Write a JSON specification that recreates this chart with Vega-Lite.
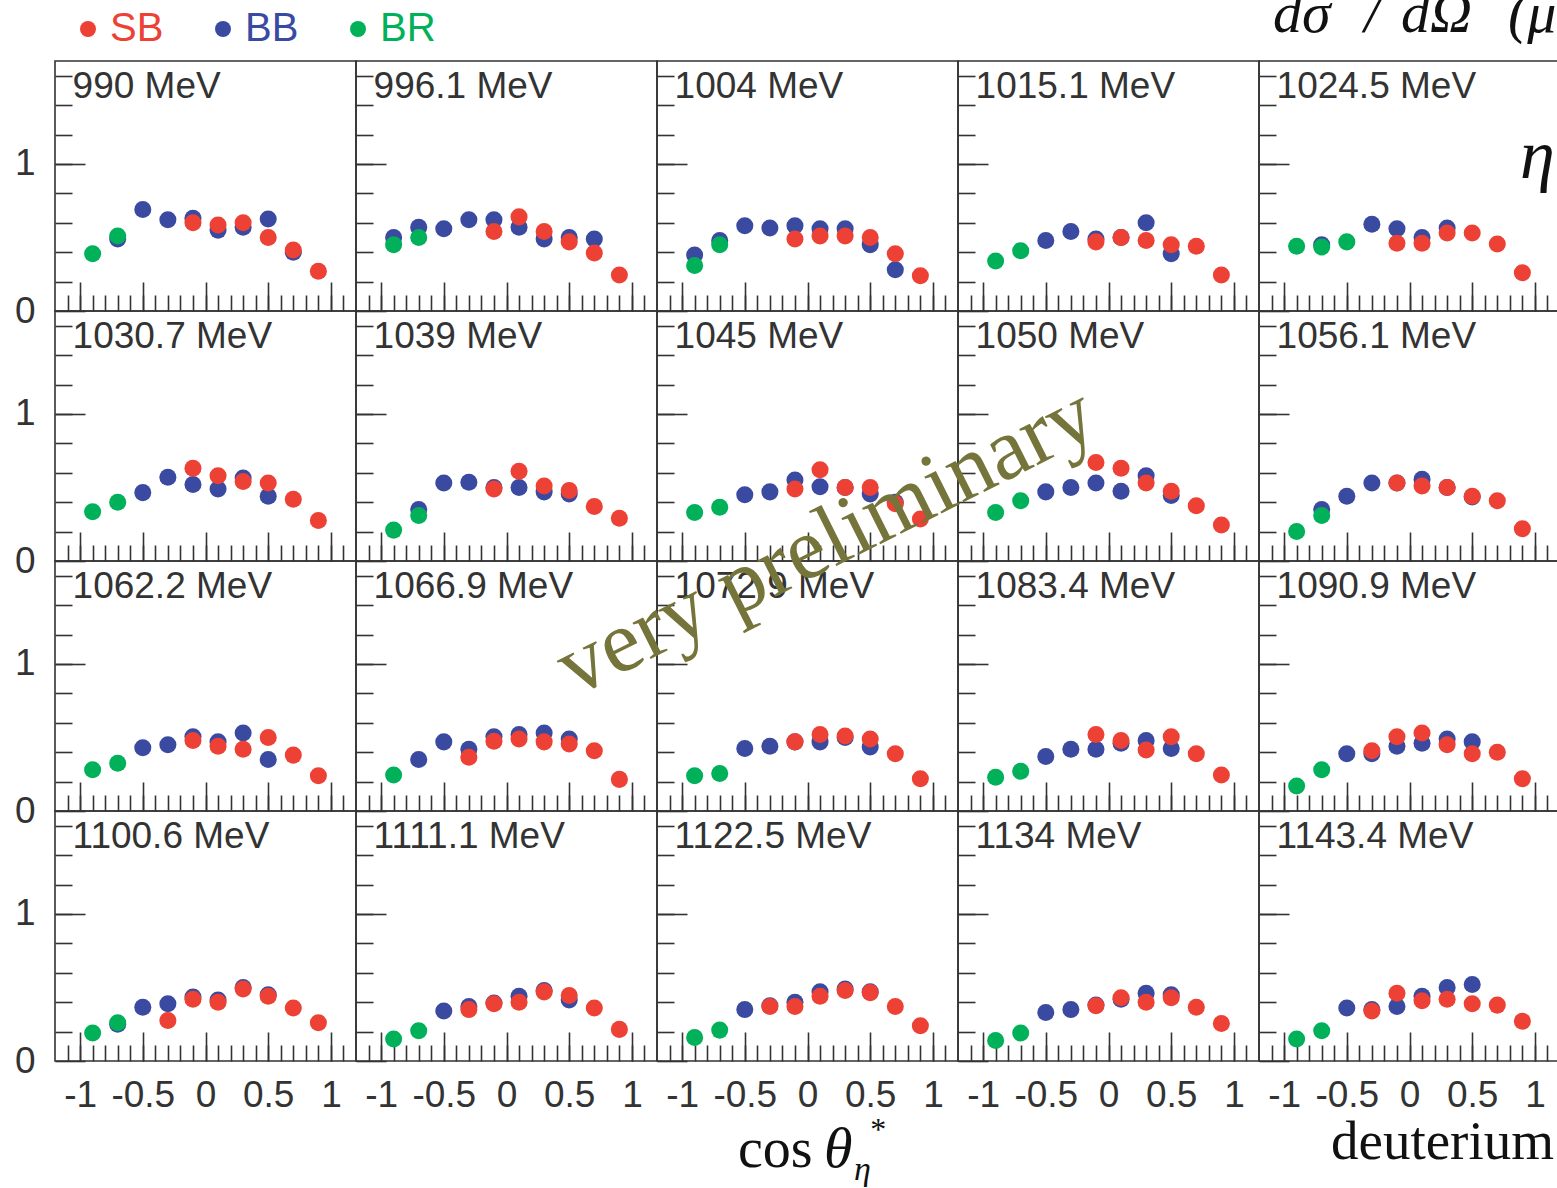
{
  "$schema": "https://vega.github.io/schema/vega-lite/v6.json",
  "autosize": {"type": "none"},
  "padding": {"left": 55, "top": 61, "right": 1502, "bottom": 1127},
  "background": "white",
  "datasets": {
    "pts": [
      {"E":"990 MeV","s":"BB","cos":-0.7,"xs":0.49},{"E":"990 MeV","s":"BB","cos":-0.5,"xs":0.69},{"E":"990 MeV","s":"BB","cos":-0.3,"xs":0.62},{"E":"990 MeV","s":"BB","cos":-0.1,"xs":0.63},{"E":"990 MeV","s":"BB","cos":0.1,"xs":0.55},{"E":"990 MeV","s":"BB","cos":0.3,"xs":0.57},{"E":"990 MeV","s":"BB","cos":0.5,"xs":0.625},{"E":"990 MeV","s":"BB","cos":0.7,"xs":0.40},
      {"E":"990 MeV","s":"SB","cos":-0.1,"xs":0.60},{"E":"990 MeV","s":"SB","cos":0.1,"xs":0.585},{"E":"990 MeV","s":"SB","cos":0.3,"xs":0.60},{"E":"990 MeV","s":"SB","cos":0.5,"xs":0.50},{"E":"990 MeV","s":"SB","cos":0.7,"xs":0.415},{"E":"990 MeV","s":"SB","cos":0.9,"xs":0.27},
      {"E":"990 MeV","s":"BR","cos":-0.9,"xs":0.39},{"E":"990 MeV","s":"BR","cos":-0.7,"xs":0.51},

      {"E":"996.1 MeV","s":"BB","cos":-0.9,"xs":0.50},{"E":"996.1 MeV","s":"BB","cos":-0.7,"xs":0.57},{"E":"996.1 MeV","s":"BB","cos":-0.5,"xs":0.56},{"E":"996.1 MeV","s":"BB","cos":-0.3,"xs":0.62},{"E":"996.1 MeV","s":"BB","cos":-0.1,"xs":0.62},{"E":"996.1 MeV","s":"BB","cos":0.1,"xs":0.57},{"E":"996.1 MeV","s":"BB","cos":0.3,"xs":0.49},{"E":"996.1 MeV","s":"BB","cos":0.5,"xs":0.50},{"E":"996.1 MeV","s":"BB","cos":0.7,"xs":0.49},
      {"E":"996.1 MeV","s":"SB","cos":-0.1,"xs":0.54},{"E":"996.1 MeV","s":"SB","cos":0.1,"xs":0.64},{"E":"996.1 MeV","s":"SB","cos":0.3,"xs":0.54},{"E":"996.1 MeV","s":"SB","cos":0.5,"xs":0.47},{"E":"996.1 MeV","s":"SB","cos":0.7,"xs":0.395},{"E":"996.1 MeV","s":"SB","cos":0.9,"xs":0.245},
      {"E":"996.1 MeV","s":"BR","cos":-0.9,"xs":0.45},{"E":"996.1 MeV","s":"BR","cos":-0.7,"xs":0.50},

      {"E":"1004 MeV","s":"BB","cos":-0.9,"xs":0.38},{"E":"1004 MeV","s":"BB","cos":-0.7,"xs":0.48},{"E":"1004 MeV","s":"BB","cos":-0.5,"xs":0.58},{"E":"1004 MeV","s":"BB","cos":-0.3,"xs":0.565},{"E":"1004 MeV","s":"BB","cos":-0.1,"xs":0.58},{"E":"1004 MeV","s":"BB","cos":0.1,"xs":0.56},{"E":"1004 MeV","s":"BB","cos":0.3,"xs":0.56},{"E":"1004 MeV","s":"BB","cos":0.5,"xs":0.45},{"E":"1004 MeV","s":"BB","cos":0.7,"xs":0.28},
      {"E":"1004 MeV","s":"SB","cos":-0.1,"xs":0.49},{"E":"1004 MeV","s":"SB","cos":0.1,"xs":0.51},{"E":"1004 MeV","s":"SB","cos":0.3,"xs":0.51},{"E":"1004 MeV","s":"SB","cos":0.5,"xs":0.50},{"E":"1004 MeV","s":"SB","cos":0.7,"xs":0.39},{"E":"1004 MeV","s":"SB","cos":0.9,"xs":0.24},
      {"E":"1004 MeV","s":"BR","cos":-0.9,"xs":0.31},{"E":"1004 MeV","s":"BR","cos":-0.7,"xs":0.45},

      {"E":"1015.1 MeV","s":"BB","cos":-0.5,"xs":0.48},{"E":"1015.1 MeV","s":"BB","cos":-0.3,"xs":0.54},{"E":"1015.1 MeV","s":"BB","cos":-0.1,"xs":0.49},{"E":"1015.1 MeV","s":"BB","cos":0.1,"xs":0.50},{"E":"1015.1 MeV","s":"BB","cos":0.3,"xs":0.60},{"E":"1015.1 MeV","s":"BB","cos":0.5,"xs":0.39},
      {"E":"1015.1 MeV","s":"SB","cos":-0.1,"xs":0.47},{"E":"1015.1 MeV","s":"SB","cos":0.1,"xs":0.50},{"E":"1015.1 MeV","s":"SB","cos":0.3,"xs":0.48},{"E":"1015.1 MeV","s":"SB","cos":0.5,"xs":0.45},{"E":"1015.1 MeV","s":"SB","cos":0.7,"xs":0.44},{"E":"1015.1 MeV","s":"SB","cos":0.9,"xs":0.245},
      {"E":"1015.1 MeV","s":"BR","cos":-0.9,"xs":0.34},{"E":"1015.1 MeV","s":"BR","cos":-0.7,"xs":0.41},

      {"E":"1024.5 MeV","s":"BB","cos":-0.7,"xs":0.45},{"E":"1024.5 MeV","s":"BB","cos":-0.3,"xs":0.59},{"E":"1024.5 MeV","s":"BB","cos":-0.1,"xs":0.56},{"E":"1024.5 MeV","s":"BB","cos":0.1,"xs":0.50},{"E":"1024.5 MeV","s":"BB","cos":0.3,"xs":0.565},
      {"E":"1024.5 MeV","s":"SB","cos":-0.1,"xs":0.46},{"E":"1024.5 MeV","s":"SB","cos":0.1,"xs":0.46},{"E":"1024.5 MeV","s":"SB","cos":0.3,"xs":0.53},{"E":"1024.5 MeV","s":"SB","cos":0.5,"xs":0.53},{"E":"1024.5 MeV","s":"SB","cos":0.7,"xs":0.455},{"E":"1024.5 MeV","s":"SB","cos":0.9,"xs":0.26},
      {"E":"1024.5 MeV","s":"BR","cos":-0.9,"xs":0.44},{"E":"1024.5 MeV","s":"BR","cos":-0.7,"xs":0.435},{"E":"1024.5 MeV","s":"BR","cos":-0.5,"xs":0.47},

      {"E":"1030.7 MeV","s":"BB","cos":-0.5,"xs":0.465},{"E":"1030.7 MeV","s":"BB","cos":-0.3,"xs":0.57},{"E":"1030.7 MeV","s":"BB","cos":-0.1,"xs":0.52},{"E":"1030.7 MeV","s":"BB","cos":0.1,"xs":0.49},{"E":"1030.7 MeV","s":"BB","cos":0.3,"xs":0.565},{"E":"1030.7 MeV","s":"BB","cos":0.5,"xs":0.44},
      {"E":"1030.7 MeV","s":"SB","cos":-0.1,"xs":0.63},{"E":"1030.7 MeV","s":"SB","cos":0.1,"xs":0.58},{"E":"1030.7 MeV","s":"SB","cos":0.3,"xs":0.54},{"E":"1030.7 MeV","s":"SB","cos":0.5,"xs":0.53},{"E":"1030.7 MeV","s":"SB","cos":0.7,"xs":0.42},{"E":"1030.7 MeV","s":"SB","cos":0.9,"xs":0.275},
      {"E":"1030.7 MeV","s":"BR","cos":-0.9,"xs":0.335},{"E":"1030.7 MeV","s":"BR","cos":-0.7,"xs":0.40},

      {"E":"1039 MeV","s":"BB","cos":-0.7,"xs":0.35},{"E":"1039 MeV","s":"BB","cos":-0.5,"xs":0.53},{"E":"1039 MeV","s":"BB","cos":-0.3,"xs":0.535},{"E":"1039 MeV","s":"BB","cos":-0.1,"xs":0.50},{"E":"1039 MeV","s":"BB","cos":0.1,"xs":0.50},{"E":"1039 MeV","s":"BB","cos":0.3,"xs":0.47},{"E":"1039 MeV","s":"BB","cos":0.5,"xs":0.455},
      {"E":"1039 MeV","s":"SB","cos":-0.1,"xs":0.49},{"E":"1039 MeV","s":"SB","cos":0.1,"xs":0.61},{"E":"1039 MeV","s":"SB","cos":0.3,"xs":0.51},{"E":"1039 MeV","s":"SB","cos":0.5,"xs":0.48},{"E":"1039 MeV","s":"SB","cos":0.7,"xs":0.37},{"E":"1039 MeV","s":"SB","cos":0.9,"xs":0.29},
      {"E":"1039 MeV","s":"BR","cos":-0.9,"xs":0.21},{"E":"1039 MeV","s":"BR","cos":-0.7,"xs":0.31},

      {"E":"1045 MeV","s":"BB","cos":-0.5,"xs":0.45},{"E":"1045 MeV","s":"BB","cos":-0.3,"xs":0.47},{"E":"1045 MeV","s":"BB","cos":-0.1,"xs":0.55},{"E":"1045 MeV","s":"BB","cos":0.1,"xs":0.505},{"E":"1045 MeV","s":"BB","cos":0.3,"xs":0.50},{"E":"1045 MeV","s":"BB","cos":0.5,"xs":0.455},{"E":"1045 MeV","s":"BB","cos":0.7,"xs":0.40},
      {"E":"1045 MeV","s":"SB","cos":-0.1,"xs":0.49},{"E":"1045 MeV","s":"SB","cos":0.1,"xs":0.62},{"E":"1045 MeV","s":"SB","cos":0.3,"xs":0.50},{"E":"1045 MeV","s":"SB","cos":0.5,"xs":0.50},{"E":"1045 MeV","s":"SB","cos":0.7,"xs":0.39},{"E":"1045 MeV","s":"SB","cos":0.9,"xs":0.285},
      {"E":"1045 MeV","s":"BR","cos":-0.9,"xs":0.33},{"E":"1045 MeV","s":"BR","cos":-0.7,"xs":0.365},

      {"E":"1050 MeV","s":"BB","cos":-0.5,"xs":0.47},{"E":"1050 MeV","s":"BB","cos":-0.3,"xs":0.50},{"E":"1050 MeV","s":"BB","cos":-0.1,"xs":0.53},{"E":"1050 MeV","s":"BB","cos":0.1,"xs":0.475},{"E":"1050 MeV","s":"BB","cos":0.3,"xs":0.58},{"E":"1050 MeV","s":"BB","cos":0.5,"xs":0.445},
      {"E":"1050 MeV","s":"SB","cos":-0.1,"xs":0.67},{"E":"1050 MeV","s":"SB","cos":0.1,"xs":0.63},{"E":"1050 MeV","s":"SB","cos":0.3,"xs":0.53},{"E":"1050 MeV","s":"SB","cos":0.5,"xs":0.475},{"E":"1050 MeV","s":"SB","cos":0.7,"xs":0.375},{"E":"1050 MeV","s":"SB","cos":0.9,"xs":0.245},
      {"E":"1050 MeV","s":"BR","cos":-0.9,"xs":0.33},{"E":"1050 MeV","s":"BR","cos":-0.7,"xs":0.41},

      {"E":"1056.1 MeV","s":"BB","cos":-0.7,"xs":0.35},{"E":"1056.1 MeV","s":"BB","cos":-0.5,"xs":0.44},{"E":"1056.1 MeV","s":"BB","cos":-0.3,"xs":0.53},{"E":"1056.1 MeV","s":"BB","cos":-0.1,"xs":0.53},{"E":"1056.1 MeV","s":"BB","cos":0.1,"xs":0.555},{"E":"1056.1 MeV","s":"BB","cos":0.3,"xs":0.50},{"E":"1056.1 MeV","s":"BB","cos":0.5,"xs":0.435},
      {"E":"1056.1 MeV","s":"SB","cos":-0.1,"xs":0.53},{"E":"1056.1 MeV","s":"SB","cos":0.1,"xs":0.51},{"E":"1056.1 MeV","s":"SB","cos":0.3,"xs":0.50},{"E":"1056.1 MeV","s":"SB","cos":0.5,"xs":0.44},{"E":"1056.1 MeV","s":"SB","cos":0.7,"xs":0.41},{"E":"1056.1 MeV","s":"SB","cos":0.9,"xs":0.22},
      {"E":"1056.1 MeV","s":"BR","cos":-0.9,"xs":0.20},{"E":"1056.1 MeV","s":"BR","cos":-0.7,"xs":0.31},

      {"E":"1062.2 MeV","s":"BB","cos":-0.5,"xs":0.43},{"E":"1062.2 MeV","s":"BB","cos":-0.3,"xs":0.45},{"E":"1062.2 MeV","s":"BB","cos":-0.1,"xs":0.505},{"E":"1062.2 MeV","s":"BB","cos":0.1,"xs":0.47},{"E":"1062.2 MeV","s":"BB","cos":0.3,"xs":0.53},{"E":"1062.2 MeV","s":"BB","cos":0.5,"xs":0.35},
      {"E":"1062.2 MeV","s":"SB","cos":-0.1,"xs":0.48},{"E":"1062.2 MeV","s":"SB","cos":0.1,"xs":0.44},{"E":"1062.2 MeV","s":"SB","cos":0.3,"xs":0.42},{"E":"1062.2 MeV","s":"SB","cos":0.5,"xs":0.50},{"E":"1062.2 MeV","s":"SB","cos":0.7,"xs":0.38},{"E":"1062.2 MeV","s":"SB","cos":0.9,"xs":0.24},
      {"E":"1062.2 MeV","s":"BR","cos":-0.9,"xs":0.28},{"E":"1062.2 MeV","s":"BR","cos":-0.7,"xs":0.325},

      {"E":"1066.9 MeV","s":"BB","cos":-0.7,"xs":0.35},{"E":"1066.9 MeV","s":"BB","cos":-0.5,"xs":0.47},{"E":"1066.9 MeV","s":"BB","cos":-0.3,"xs":0.42},{"E":"1066.9 MeV","s":"BB","cos":-0.1,"xs":0.505},{"E":"1066.9 MeV","s":"BB","cos":0.1,"xs":0.52},{"E":"1066.9 MeV","s":"BB","cos":0.3,"xs":0.53},{"E":"1066.9 MeV","s":"BB","cos":0.5,"xs":0.49},
      {"E":"1066.9 MeV","s":"SB","cos":-0.3,"xs":0.365},{"E":"1066.9 MeV","s":"SB","cos":-0.1,"xs":0.475},{"E":"1066.9 MeV","s":"SB","cos":0.1,"xs":0.49},{"E":"1066.9 MeV","s":"SB","cos":0.3,"xs":0.47},{"E":"1066.9 MeV","s":"SB","cos":0.5,"xs":0.455},{"E":"1066.9 MeV","s":"SB","cos":0.7,"xs":0.41},{"E":"1066.9 MeV","s":"SB","cos":0.9,"xs":0.215},
      {"E":"1066.9 MeV","s":"BR","cos":-0.9,"xs":0.245},

      {"E":"1072.9 MeV","s":"BB","cos":-0.5,"xs":0.425},{"E":"1072.9 MeV","s":"BB","cos":-0.3,"xs":0.44},{"E":"1072.9 MeV","s":"BB","cos":-0.1,"xs":0.47},{"E":"1072.9 MeV","s":"BB","cos":0.1,"xs":0.47},{"E":"1072.9 MeV","s":"BB","cos":0.3,"xs":0.50},{"E":"1072.9 MeV","s":"BB","cos":0.5,"xs":0.435},
      {"E":"1072.9 MeV","s":"SB","cos":-0.1,"xs":0.47},{"E":"1072.9 MeV","s":"SB","cos":0.1,"xs":0.52},{"E":"1072.9 MeV","s":"SB","cos":0.3,"xs":0.51},{"E":"1072.9 MeV","s":"SB","cos":0.5,"xs":0.49},{"E":"1072.9 MeV","s":"SB","cos":0.7,"xs":0.39},{"E":"1072.9 MeV","s":"SB","cos":0.9,"xs":0.22},
      {"E":"1072.9 MeV","s":"BR","cos":-0.9,"xs":0.24},{"E":"1072.9 MeV","s":"BR","cos":-0.7,"xs":0.255},

      {"E":"1083.4 MeV","s":"BB","cos":-0.5,"xs":0.37},{"E":"1083.4 MeV","s":"BB","cos":-0.3,"xs":0.42},{"E":"1083.4 MeV","s":"BB","cos":-0.1,"xs":0.42},{"E":"1083.4 MeV","s":"BB","cos":0.1,"xs":0.46},{"E":"1083.4 MeV","s":"BB","cos":0.3,"xs":0.48},{"E":"1083.4 MeV","s":"BB","cos":0.5,"xs":0.425},
      {"E":"1083.4 MeV","s":"SB","cos":-0.1,"xs":0.52},{"E":"1083.4 MeV","s":"SB","cos":0.1,"xs":0.48},{"E":"1083.4 MeV","s":"SB","cos":0.3,"xs":0.415},{"E":"1083.4 MeV","s":"SB","cos":0.5,"xs":0.505},{"E":"1083.4 MeV","s":"SB","cos":0.7,"xs":0.39},{"E":"1083.4 MeV","s":"SB","cos":0.9,"xs":0.245},
      {"E":"1083.4 MeV","s":"BR","cos":-0.9,"xs":0.23},{"E":"1083.4 MeV","s":"BR","cos":-0.7,"xs":0.27},

      {"E":"1090.9 MeV","s":"BB","cos":-0.5,"xs":0.39},{"E":"1090.9 MeV","s":"BB","cos":-0.3,"xs":0.39},{"E":"1090.9 MeV","s":"BB","cos":-0.1,"xs":0.44},{"E":"1090.9 MeV","s":"BB","cos":0.1,"xs":0.46},{"E":"1090.9 MeV","s":"BB","cos":0.3,"xs":0.49},{"E":"1090.9 MeV","s":"BB","cos":0.5,"xs":0.47},
      {"E":"1090.9 MeV","s":"SB","cos":-0.3,"xs":0.41},{"E":"1090.9 MeV","s":"SB","cos":-0.1,"xs":0.505},{"E":"1090.9 MeV","s":"SB","cos":0.1,"xs":0.53},{"E":"1090.9 MeV","s":"SB","cos":0.3,"xs":0.45},{"E":"1090.9 MeV","s":"SB","cos":0.5,"xs":0.39},{"E":"1090.9 MeV","s":"SB","cos":0.7,"xs":0.40},{"E":"1090.9 MeV","s":"SB","cos":0.9,"xs":0.22},
      {"E":"1090.9 MeV","s":"BR","cos":-0.9,"xs":0.17},{"E":"1090.9 MeV","s":"BR","cos":-0.7,"xs":0.28},

      {"E":"1100.6 MeV","s":"BB","cos":-0.7,"xs":0.25},{"E":"1100.6 MeV","s":"BB","cos":-0.5,"xs":0.365},{"E":"1100.6 MeV","s":"BB","cos":-0.3,"xs":0.39},{"E":"1100.6 MeV","s":"BB","cos":-0.1,"xs":0.435},{"E":"1100.6 MeV","s":"BB","cos":0.1,"xs":0.415},{"E":"1100.6 MeV","s":"BB","cos":0.3,"xs":0.50},{"E":"1100.6 MeV","s":"BB","cos":0.5,"xs":0.45},
      {"E":"1100.6 MeV","s":"SB","cos":-0.3,"xs":0.275},{"E":"1100.6 MeV","s":"SB","cos":-0.1,"xs":0.42},{"E":"1100.6 MeV","s":"SB","cos":0.1,"xs":0.40},{"E":"1100.6 MeV","s":"SB","cos":0.3,"xs":0.49},{"E":"1100.6 MeV","s":"SB","cos":0.5,"xs":0.44},{"E":"1100.6 MeV","s":"SB","cos":0.7,"xs":0.36},{"E":"1100.6 MeV","s":"SB","cos":0.9,"xs":0.26},
      {"E":"1100.6 MeV","s":"BR","cos":-0.9,"xs":0.19},{"E":"1100.6 MeV","s":"BR","cos":-0.7,"xs":0.26},

      {"E":"1111.1 MeV","s":"BB","cos":-0.5,"xs":0.34},{"E":"1111.1 MeV","s":"BB","cos":-0.3,"xs":0.37},{"E":"1111.1 MeV","s":"BB","cos":-0.1,"xs":0.395},{"E":"1111.1 MeV","s":"BB","cos":0.1,"xs":0.44},{"E":"1111.1 MeV","s":"BB","cos":0.3,"xs":0.48},{"E":"1111.1 MeV","s":"BB","cos":0.5,"xs":0.415},
      {"E":"1111.1 MeV","s":"SB","cos":-0.3,"xs":0.35},{"E":"1111.1 MeV","s":"SB","cos":-0.1,"xs":0.39},{"E":"1111.1 MeV","s":"SB","cos":0.1,"xs":0.40},{"E":"1111.1 MeV","s":"SB","cos":0.3,"xs":0.47},{"E":"1111.1 MeV","s":"SB","cos":0.5,"xs":0.445},{"E":"1111.1 MeV","s":"SB","cos":0.7,"xs":0.36},{"E":"1111.1 MeV","s":"SB","cos":0.9,"xs":0.215},
      {"E":"1111.1 MeV","s":"BR","cos":-0.9,"xs":0.15},{"E":"1111.1 MeV","s":"BR","cos":-0.7,"xs":0.205},

      {"E":"1122.5 MeV","s":"BB","cos":-0.5,"xs":0.35},{"E":"1122.5 MeV","s":"BB","cos":-0.3,"xs":0.375},{"E":"1122.5 MeV","s":"BB","cos":-0.1,"xs":0.40},{"E":"1122.5 MeV","s":"BB","cos":0.1,"xs":0.47},{"E":"1122.5 MeV","s":"BB","cos":0.3,"xs":0.49},{"E":"1122.5 MeV","s":"BB","cos":0.5,"xs":0.47},
      {"E":"1122.5 MeV","s":"SB","cos":-0.3,"xs":0.37},{"E":"1122.5 MeV","s":"SB","cos":-0.1,"xs":0.37},{"E":"1122.5 MeV","s":"SB","cos":0.1,"xs":0.44},{"E":"1122.5 MeV","s":"SB","cos":0.3,"xs":0.48},{"E":"1122.5 MeV","s":"SB","cos":0.5,"xs":0.465},{"E":"1122.5 MeV","s":"SB","cos":0.7,"xs":0.37},{"E":"1122.5 MeV","s":"SB","cos":0.9,"xs":0.24},
      {"E":"1122.5 MeV","s":"BR","cos":-0.9,"xs":0.16},{"E":"1122.5 MeV","s":"BR","cos":-0.7,"xs":0.21},

      {"E":"1134 MeV","s":"BB","cos":-0.5,"xs":0.33},{"E":"1134 MeV","s":"BB","cos":-0.3,"xs":0.35},{"E":"1134 MeV","s":"BB","cos":-0.1,"xs":0.38},{"E":"1134 MeV","s":"BB","cos":0.1,"xs":0.42},{"E":"1134 MeV","s":"BB","cos":0.3,"xs":0.46},{"E":"1134 MeV","s":"BB","cos":0.5,"xs":0.45},
      {"E":"1134 MeV","s":"SB","cos":-0.1,"xs":0.375},{"E":"1134 MeV","s":"SB","cos":0.1,"xs":0.43},{"E":"1134 MeV","s":"SB","cos":0.3,"xs":0.40},{"E":"1134 MeV","s":"SB","cos":0.5,"xs":0.43},{"E":"1134 MeV","s":"SB","cos":0.7,"xs":0.365},{"E":"1134 MeV","s":"SB","cos":0.9,"xs":0.255},
      {"E":"1134 MeV","s":"BR","cos":-0.9,"xs":0.14},{"E":"1134 MeV","s":"BR","cos":-0.7,"xs":0.19},

      {"E":"1143.4 MeV","s":"BB","cos":-0.5,"xs":0.36},{"E":"1143.4 MeV","s":"BB","cos":-0.3,"xs":0.35},{"E":"1143.4 MeV","s":"BB","cos":-0.1,"xs":0.37},{"E":"1143.4 MeV","s":"BB","cos":0.1,"xs":0.44},{"E":"1143.4 MeV","s":"BB","cos":0.3,"xs":0.50},{"E":"1143.4 MeV","s":"BB","cos":0.5,"xs":0.52},
      {"E":"1143.4 MeV","s":"SB","cos":-0.3,"xs":0.34},{"E":"1143.4 MeV","s":"SB","cos":-0.1,"xs":0.46},{"E":"1143.4 MeV","s":"SB","cos":0.1,"xs":0.41},{"E":"1143.4 MeV","s":"SB","cos":0.3,"xs":0.42},{"E":"1143.4 MeV","s":"SB","cos":0.5,"xs":0.39},{"E":"1143.4 MeV","s":"SB","cos":0.7,"xs":0.38},{"E":"1143.4 MeV","s":"SB","cos":0.9,"xs":0.27},
      {"E":"1143.4 MeV","s":"BR","cos":-0.9,"xs":0.15},{"E":"1143.4 MeV","s":"BR","cos":-0.7,"xs":0.205}
    ]
  },
  "columns": 5,
  "spacing": 0,
  "bounds": "flush",
  "concat": [
    {"width":301,"height":250,"resolve":{"axis":{"x":"independent","y":"independent"}},"layer":[
      {"data":{"name":"pts"},"transform":[{"filter":"datum.E=='990 MeV'"}],"mark":{"type":"circle","size":290,"opacity":1},"encoding":{"x":{"field":"cos","type":"quantitative","scale":{"domain":[-1.2,1.2],"nice":false},"axis":{"orient":"bottom","values":[-1.1,-1,-0.9,-0.8,-0.7,-0.6,-0.5,-0.4,-0.3,-0.2,-0.1,0,0.1,0.2,0.3,0.4,0.5,0.6,0.7,0.8,0.9,1,1.1],"tickSize":16,"offset":-16,"labels":false,"title":null}},"y":{"field":"xs","type":"quantitative","scale":{"domain":[0,1.7],"nice":false},"axis":{"orient":"left","values":[0.2,0.4,0.6,0.8,1,1.2,1.4,1.6],"tickSize":17,"offset":-17,"labels":false,"title":null}},"color":{"field":"s","type":"nominal","scale":{"domain":["SB","BB","BR"],"range":["#ec4134","#3a4aa0","#00b159"]},"legend":{"title":null,"orient":"none","legendX":13,"legendY":-52,"direction":"horizontal","symbolType":"circle","symbolSize":255,"symbolStrokeWidth":0,"symbolOpacity":1,"labelFont":"Liberation Sans","labelFontSize":40,"labelOffset":2,"columnPadding":39,"padding":0,"labelLimit":0,"encode":{"labels":{"update":{"fill":{"scale":"color","field":"value"}}}}}}}},
      {"data":{"name":"pts"},"transform":[{"filter":"datum.E=='990 MeV'"},{"aggregate":[{"op":"count","as":"n"}],"groupby":["E"]}],"mark":{"type":"text","align":"left","baseline":"alphabetic","font":"Liberation Sans","fontSize":37,"fill":"#333"},"encoding":{"x":{"datum":-1.06,"type":"quantitative","axis":{"orient":"bottom","values":[-1,-0.5,0,0.5,1],"tickSize":29,"offset":-29,"labels":false,"title":null}},"y":{"datum":1.45,"type":"quantitative","axis":{"orient":"left","values":[0,1],"tickSize":30,"offset":-30,"labels":true,"labelPadding":20,"labelExpr":"''+datum.value","title":null}},"text":{"field":"E"}}}
    ]},
    {"width":301,"height":250,"resolve":{"axis":{"x":"independent","y":"independent"}},"layer":[
      {"data":{"name":"pts"},"transform":[{"filter":"datum.E=='996.1 MeV'"}],"mark":{"type":"circle","size":290,"opacity":1},"encoding":{"x":{"field":"cos","type":"quantitative","scale":{"domain":[-1.2,1.2],"nice":false},"axis":{"orient":"bottom","values":[-1.1,-1,-0.9,-0.8,-0.7,-0.6,-0.5,-0.4,-0.3,-0.2,-0.1,0,0.1,0.2,0.3,0.4,0.5,0.6,0.7,0.8,0.9,1,1.1],"tickSize":16,"offset":-16,"labels":false,"title":null}},"y":{"field":"xs","type":"quantitative","scale":{"domain":[0,1.7],"nice":false},"axis":{"orient":"left","values":[0.2,0.4,0.6,0.8,1,1.2,1.4,1.6],"tickSize":17,"offset":-17,"labels":false,"title":null}},"color":{"field":"s","type":"nominal","scale":{"domain":["SB","BB","BR"],"range":["#ec4134","#3a4aa0","#00b159"]}}}},
      {"data":{"name":"pts"},"transform":[{"filter":"datum.E=='996.1 MeV'"},{"aggregate":[{"op":"count","as":"n"}],"groupby":["E"]}],"mark":{"type":"text","align":"left","baseline":"alphabetic","font":"Liberation Sans","fontSize":37,"fill":"#333"},"encoding":{"x":{"datum":-1.06,"type":"quantitative","axis":{"orient":"bottom","values":[-1,-0.5,0,0.5,1],"tickSize":29,"offset":-29,"labels":false,"title":null}},"y":{"datum":1.45,"type":"quantitative","axis":{"orient":"left","values":[0,1],"tickSize":30,"offset":-30,"labels":false,"title":null}},"text":{"field":"E"}}}
    ]},
    {"width":301,"height":250,"resolve":{"axis":{"x":"independent","y":"independent"}},"layer":[
      {"data":{"name":"pts"},"transform":[{"filter":"datum.E=='1004 MeV'"}],"mark":{"type":"circle","size":290,"opacity":1},"encoding":{"x":{"field":"cos","type":"quantitative","scale":{"domain":[-1.2,1.2],"nice":false},"axis":{"orient":"bottom","values":[-1.1,-1,-0.9,-0.8,-0.7,-0.6,-0.5,-0.4,-0.3,-0.2,-0.1,0,0.1,0.2,0.3,0.4,0.5,0.6,0.7,0.8,0.9,1,1.1],"tickSize":16,"offset":-16,"labels":false,"title":null}},"y":{"field":"xs","type":"quantitative","scale":{"domain":[0,1.7],"nice":false},"axis":{"orient":"left","values":[0.2,0.4,0.6,0.8,1,1.2,1.4,1.6],"tickSize":17,"offset":-17,"labels":false,"title":null}},"color":{"field":"s","type":"nominal","scale":{"domain":["SB","BB","BR"],"range":["#ec4134","#3a4aa0","#00b159"]}}}},
      {"data":{"name":"pts"},"transform":[{"filter":"datum.E=='1004 MeV'"},{"aggregate":[{"op":"count","as":"n"}],"groupby":["E"]}],"mark":{"type":"text","align":"left","baseline":"alphabetic","font":"Liberation Sans","fontSize":37,"fill":"#333"},"encoding":{"x":{"datum":-1.06,"type":"quantitative","axis":{"orient":"bottom","values":[-1,-0.5,0,0.5,1],"tickSize":29,"offset":-29,"labels":false,"title":null}},"y":{"datum":1.45,"type":"quantitative","axis":{"orient":"left","values":[0,1],"tickSize":30,"offset":-30,"labels":false,"title":null}},"text":{"field":"E"}}}
    ]},
    {"width":301,"height":250,"resolve":{"axis":{"x":"independent","y":"independent"}},"layer":[
      {"data":{"name":"pts"},"transform":[{"filter":"datum.E=='1015.1 MeV'"}],"mark":{"type":"circle","size":290,"opacity":1},"encoding":{"x":{"field":"cos","type":"quantitative","scale":{"domain":[-1.2,1.2],"nice":false},"axis":{"orient":"bottom","values":[-1.1,-1,-0.9,-0.8,-0.7,-0.6,-0.5,-0.4,-0.3,-0.2,-0.1,0,0.1,0.2,0.3,0.4,0.5,0.6,0.7,0.8,0.9,1,1.1],"tickSize":16,"offset":-16,"labels":false,"title":null}},"y":{"field":"xs","type":"quantitative","scale":{"domain":[0,1.7],"nice":false},"axis":{"orient":"left","values":[0.2,0.4,0.6,0.8,1,1.2,1.4,1.6],"tickSize":17,"offset":-17,"labels":false,"title":null}},"color":{"field":"s","type":"nominal","scale":{"domain":["SB","BB","BR"],"range":["#ec4134","#3a4aa0","#00b159"]}}}},
      {"data":{"name":"pts"},"transform":[{"filter":"datum.E=='1015.1 MeV'"},{"aggregate":[{"op":"count","as":"n"}],"groupby":["E"]}],"mark":{"type":"text","align":"left","baseline":"alphabetic","font":"Liberation Sans","fontSize":37,"fill":"#333"},"encoding":{"x":{"datum":-1.06,"type":"quantitative","axis":{"orient":"bottom","values":[-1,-0.5,0,0.5,1],"tickSize":29,"offset":-29,"labels":false,"title":null}},"y":{"datum":1.45,"type":"quantitative","axis":{"orient":"left","values":[0,1],"tickSize":30,"offset":-30,"labels":false,"title":null}},"text":{"field":"E"}}}
    ]},
    {"width":301,"height":250,"resolve":{"axis":{"x":"independent","y":"independent"}},"layer":[
      {"data":{"name":"pts"},"transform":[{"filter":"datum.E=='1024.5 MeV'"}],"mark":{"type":"circle","size":290,"opacity":1},"encoding":{"x":{"field":"cos","type":"quantitative","scale":{"domain":[-1.2,1.2],"nice":false},"axis":{"orient":"bottom","values":[-1.1,-1,-0.9,-0.8,-0.7,-0.6,-0.5,-0.4,-0.3,-0.2,-0.1,0,0.1,0.2,0.3,0.4,0.5,0.6,0.7,0.8,0.9,1,1.1],"tickSize":16,"offset":-16,"labels":false,"title":null}},"y":{"field":"xs","type":"quantitative","scale":{"domain":[0,1.7],"nice":false},"axis":{"orient":"left","values":[0.2,0.4,0.6,0.8,1,1.2,1.4,1.6],"tickSize":17,"offset":-17,"labels":false,"title":null}},"color":{"field":"s","type":"nominal","scale":{"domain":["SB","BB","BR"],"range":["#ec4134","#3a4aa0","#00b159"]}}}},
      {"data":{"name":"pts"},"transform":[{"filter":"datum.E=='1024.5 MeV'"},{"aggregate":[{"op":"count","as":"n"}],"groupby":["E"]}],"mark":{"type":"text","align":"left","baseline":"alphabetic","font":"Liberation Sans","fontSize":37,"fill":"#333"},"encoding":{"x":{"datum":-1.06,"type":"quantitative","axis":{"orient":"bottom","values":[-1,-0.5,0,0.5,1],"tickSize":29,"offset":-29,"labels":false,"title":null}},"y":{"datum":1.45,"type":"quantitative","axis":{"orient":"left","values":[0,1],"tickSize":30,"offset":-30,"labels":false,"title":null}},"text":{"field":"E"}}},
      {"data":{"values":[{}]},"mark":{"type":"text","align":"left","baseline":"alphabetic","font":"Liberation Serif","fontStyle":"italic","fontSize":58,"fill":"#111"},"encoding":{"x":{"datum":-1.088,"type":"quantitative","axis":null},"y":{"datum":1.897,"type":"quantitative","axis":null},"text":{"value":"dσ"}}},
      {"data":{"values":[{}]},"mark":{"type":"text","align":"left","baseline":"alphabetic","font":"Liberation Serif","fontStyle":"italic","fontSize":58,"fill":"#111"},"encoding":{"x":{"datum":-0.36,"type":"quantitative","axis":null},"y":{"datum":1.897,"type":"quantitative","axis":null},"text":{"value":"/"}}},
      {"data":{"values":[{}]},"mark":{"type":"text","align":"left","baseline":"alphabetic","font":"Liberation Serif","fontStyle":"italic","fontSize":58,"fill":"#111"},"encoding":{"x":{"datum":-0.068,"type":"quantitative","axis":null},"y":{"datum":1.897,"type":"quantitative","axis":null},"text":{"value":"dΩ"}}},
      {"data":{"values":[{}]},"mark":{"type":"text","align":"left","baseline":"alphabetic","font":"Liberation Serif","fontStyle":"italic","fontSize":58,"fill":"#111"},"encoding":{"x":{"datum":0.785,"type":"quantitative","axis":null},"y":{"datum":1.897,"type":"quantitative","axis":null},"text":{"value":"(μb/sr)"}}},
      {"data":{"values":[{}]},"mark":{"type":"text","align":"left","baseline":"alphabetic","font":"Liberation Serif","fontStyle":"italic","fontSize":70,"fill":"#111"},"encoding":{"x":{"datum":0.881,"type":"quantitative","axis":null},"y":{"datum":0.904,"type":"quantitative","axis":null},"text":{"value":"η"}}}
    ]},
    {"width":301,"height":250,"resolve":{"axis":{"x":"independent","y":"independent"}},"layer":[
      {"data":{"name":"pts"},"transform":[{"filter":"datum.E=='1030.7 MeV'"}],"mark":{"type":"circle","size":290,"opacity":1},"encoding":{"x":{"field":"cos","type":"quantitative","scale":{"domain":[-1.2,1.2],"nice":false},"axis":{"orient":"bottom","values":[-1.1,-1,-0.9,-0.8,-0.7,-0.6,-0.5,-0.4,-0.3,-0.2,-0.1,0,0.1,0.2,0.3,0.4,0.5,0.6,0.7,0.8,0.9,1,1.1],"tickSize":16,"offset":-16,"labels":false,"title":null}},"y":{"field":"xs","type":"quantitative","scale":{"domain":[0,1.7],"nice":false},"axis":{"orient":"left","values":[0.2,0.4,0.6,0.8,1,1.2,1.4,1.6],"tickSize":17,"offset":-17,"labels":false,"title":null}},"color":{"field":"s","type":"nominal","scale":{"domain":["SB","BB","BR"],"range":["#ec4134","#3a4aa0","#00b159"]}}}},
      {"data":{"name":"pts"},"transform":[{"filter":"datum.E=='1030.7 MeV'"},{"aggregate":[{"op":"count","as":"n"}],"groupby":["E"]}],"mark":{"type":"text","align":"left","baseline":"alphabetic","font":"Liberation Sans","fontSize":37,"fill":"#333"},"encoding":{"x":{"datum":-1.06,"type":"quantitative","axis":{"orient":"bottom","values":[-1,-0.5,0,0.5,1],"tickSize":29,"offset":-29,"labels":false,"title":null}},"y":{"datum":1.45,"type":"quantitative","axis":{"orient":"left","values":[0,1],"tickSize":30,"offset":-30,"labels":true,"labelPadding":20,"labelExpr":"''+datum.value","title":null}},"text":{"field":"E"}}}
    ]},
    {"width":301,"height":250,"resolve":{"axis":{"x":"independent","y":"independent"}},"layer":[
      {"data":{"name":"pts"},"transform":[{"filter":"datum.E=='1039 MeV'"}],"mark":{"type":"circle","size":290,"opacity":1},"encoding":{"x":{"field":"cos","type":"quantitative","scale":{"domain":[-1.2,1.2],"nice":false},"axis":{"orient":"bottom","values":[-1.1,-1,-0.9,-0.8,-0.7,-0.6,-0.5,-0.4,-0.3,-0.2,-0.1,0,0.1,0.2,0.3,0.4,0.5,0.6,0.7,0.8,0.9,1,1.1],"tickSize":16,"offset":-16,"labels":false,"title":null}},"y":{"field":"xs","type":"quantitative","scale":{"domain":[0,1.7],"nice":false},"axis":{"orient":"left","values":[0.2,0.4,0.6,0.8,1,1.2,1.4,1.6],"tickSize":17,"offset":-17,"labels":false,"title":null}},"color":{"field":"s","type":"nominal","scale":{"domain":["SB","BB","BR"],"range":["#ec4134","#3a4aa0","#00b159"]}}}},
      {"data":{"name":"pts"},"transform":[{"filter":"datum.E=='1039 MeV'"},{"aggregate":[{"op":"count","as":"n"}],"groupby":["E"]}],"mark":{"type":"text","align":"left","baseline":"alphabetic","font":"Liberation Sans","fontSize":37,"fill":"#333"},"encoding":{"x":{"datum":-1.06,"type":"quantitative","axis":{"orient":"bottom","values":[-1,-0.5,0,0.5,1],"tickSize":29,"offset":-29,"labels":false,"title":null}},"y":{"datum":1.45,"type":"quantitative","axis":{"orient":"left","values":[0,1],"tickSize":30,"offset":-30,"labels":false,"title":null}},"text":{"field":"E"}}}
    ]},
    {"width":301,"height":250,"resolve":{"axis":{"x":"independent","y":"independent"}},"layer":[
      {"data":{"name":"pts"},"transform":[{"filter":"datum.E=='1045 MeV'"}],"mark":{"type":"circle","size":290,"opacity":1},"encoding":{"x":{"field":"cos","type":"quantitative","scale":{"domain":[-1.2,1.2],"nice":false},"axis":{"orient":"bottom","values":[-1.1,-1,-0.9,-0.8,-0.7,-0.6,-0.5,-0.4,-0.3,-0.2,-0.1,0,0.1,0.2,0.3,0.4,0.5,0.6,0.7,0.8,0.9,1,1.1],"tickSize":16,"offset":-16,"labels":false,"title":null}},"y":{"field":"xs","type":"quantitative","scale":{"domain":[0,1.7],"nice":false},"axis":{"orient":"left","values":[0.2,0.4,0.6,0.8,1,1.2,1.4,1.6],"tickSize":17,"offset":-17,"labels":false,"title":null}},"color":{"field":"s","type":"nominal","scale":{"domain":["SB","BB","BR"],"range":["#ec4134","#3a4aa0","#00b159"]}}}},
      {"data":{"name":"pts"},"transform":[{"filter":"datum.E=='1045 MeV'"},{"aggregate":[{"op":"count","as":"n"}],"groupby":["E"]}],"mark":{"type":"text","align":"left","baseline":"alphabetic","font":"Liberation Sans","fontSize":37,"fill":"#333"},"encoding":{"x":{"datum":-1.06,"type":"quantitative","axis":{"orient":"bottom","values":[-1,-0.5,0,0.5,1],"tickSize":29,"offset":-29,"labels":false,"title":null}},"y":{"datum":1.45,"type":"quantitative","axis":{"orient":"left","values":[0,1],"tickSize":30,"offset":-30,"labels":false,"title":null}},"text":{"field":"E"}}}
    ]},
    {"width":301,"height":250,"resolve":{"axis":{"x":"independent","y":"independent"}},"layer":[
      {"data":{"name":"pts"},"transform":[{"filter":"datum.E=='1050 MeV'"}],"mark":{"type":"circle","size":290,"opacity":1},"encoding":{"x":{"field":"cos","type":"quantitative","scale":{"domain":[-1.2,1.2],"nice":false},"axis":{"orient":"bottom","values":[-1.1,-1,-0.9,-0.8,-0.7,-0.6,-0.5,-0.4,-0.3,-0.2,-0.1,0,0.1,0.2,0.3,0.4,0.5,0.6,0.7,0.8,0.9,1,1.1],"tickSize":16,"offset":-16,"labels":false,"title":null}},"y":{"field":"xs","type":"quantitative","scale":{"domain":[0,1.7],"nice":false},"axis":{"orient":"left","values":[0.2,0.4,0.6,0.8,1,1.2,1.4,1.6],"tickSize":17,"offset":-17,"labels":false,"title":null}},"color":{"field":"s","type":"nominal","scale":{"domain":["SB","BB","BR"],"range":["#ec4134","#3a4aa0","#00b159"]}}}},
      {"data":{"name":"pts"},"transform":[{"filter":"datum.E=='1050 MeV'"},{"aggregate":[{"op":"count","as":"n"}],"groupby":["E"]}],"mark":{"type":"text","align":"left","baseline":"alphabetic","font":"Liberation Sans","fontSize":37,"fill":"#333"},"encoding":{"x":{"datum":-1.06,"type":"quantitative","axis":{"orient":"bottom","values":[-1,-0.5,0,0.5,1],"tickSize":29,"offset":-29,"labels":false,"title":null}},"y":{"datum":1.45,"type":"quantitative","axis":{"orient":"left","values":[0,1],"tickSize":30,"offset":-30,"labels":false,"title":null}},"text":{"field":"E"}}}
    ]},
    {"width":301,"height":250,"resolve":{"axis":{"x":"independent","y":"independent"}},"layer":[
      {"data":{"name":"pts"},"transform":[{"filter":"datum.E=='1056.1 MeV'"}],"mark":{"type":"circle","size":290,"opacity":1},"encoding":{"x":{"field":"cos","type":"quantitative","scale":{"domain":[-1.2,1.2],"nice":false},"axis":{"orient":"bottom","values":[-1.1,-1,-0.9,-0.8,-0.7,-0.6,-0.5,-0.4,-0.3,-0.2,-0.1,0,0.1,0.2,0.3,0.4,0.5,0.6,0.7,0.8,0.9,1,1.1],"tickSize":16,"offset":-16,"labels":false,"title":null}},"y":{"field":"xs","type":"quantitative","scale":{"domain":[0,1.7],"nice":false},"axis":{"orient":"left","values":[0.2,0.4,0.6,0.8,1,1.2,1.4,1.6],"tickSize":17,"offset":-17,"labels":false,"title":null}},"color":{"field":"s","type":"nominal","scale":{"domain":["SB","BB","BR"],"range":["#ec4134","#3a4aa0","#00b159"]}}}},
      {"data":{"name":"pts"},"transform":[{"filter":"datum.E=='1056.1 MeV'"},{"aggregate":[{"op":"count","as":"n"}],"groupby":["E"]}],"mark":{"type":"text","align":"left","baseline":"alphabetic","font":"Liberation Sans","fontSize":37,"fill":"#333"},"encoding":{"x":{"datum":-1.06,"type":"quantitative","axis":{"orient":"bottom","values":[-1,-0.5,0,0.5,1],"tickSize":29,"offset":-29,"labels":false,"title":null}},"y":{"datum":1.45,"type":"quantitative","axis":{"orient":"left","values":[0,1],"tickSize":30,"offset":-30,"labels":false,"title":null}},"text":{"field":"E"}}}
    ]},
    {"width":301,"height":250,"resolve":{"axis":{"x":"independent","y":"independent"}},"layer":[
      {"data":{"name":"pts"},"transform":[{"filter":"datum.E=='1062.2 MeV'"}],"mark":{"type":"circle","size":290,"opacity":1},"encoding":{"x":{"field":"cos","type":"quantitative","scale":{"domain":[-1.2,1.2],"nice":false},"axis":{"orient":"bottom","values":[-1.1,-1,-0.9,-0.8,-0.7,-0.6,-0.5,-0.4,-0.3,-0.2,-0.1,0,0.1,0.2,0.3,0.4,0.5,0.6,0.7,0.8,0.9,1,1.1],"tickSize":16,"offset":-16,"labels":false,"title":null}},"y":{"field":"xs","type":"quantitative","scale":{"domain":[0,1.7],"nice":false},"axis":{"orient":"left","values":[0.2,0.4,0.6,0.8,1,1.2,1.4,1.6],"tickSize":17,"offset":-17,"labels":false,"title":null}},"color":{"field":"s","type":"nominal","scale":{"domain":["SB","BB","BR"],"range":["#ec4134","#3a4aa0","#00b159"]}}}},
      {"data":{"name":"pts"},"transform":[{"filter":"datum.E=='1062.2 MeV'"},{"aggregate":[{"op":"count","as":"n"}],"groupby":["E"]}],"mark":{"type":"text","align":"left","baseline":"alphabetic","font":"Liberation Sans","fontSize":37,"fill":"#333"},"encoding":{"x":{"datum":-1.06,"type":"quantitative","axis":{"orient":"bottom","values":[-1,-0.5,0,0.5,1],"tickSize":29,"offset":-29,"labels":false,"title":null}},"y":{"datum":1.45,"type":"quantitative","axis":{"orient":"left","values":[0,1],"tickSize":30,"offset":-30,"labels":true,"labelPadding":20,"labelExpr":"''+datum.value","title":null}},"text":{"field":"E"}}}
    ]},
    {"width":301,"height":250,"resolve":{"axis":{"x":"independent","y":"independent"}},"layer":[
      {"data":{"name":"pts"},"transform":[{"filter":"datum.E=='1066.9 MeV'"}],"mark":{"type":"circle","size":290,"opacity":1},"encoding":{"x":{"field":"cos","type":"quantitative","scale":{"domain":[-1.2,1.2],"nice":false},"axis":{"orient":"bottom","values":[-1.1,-1,-0.9,-0.8,-0.7,-0.6,-0.5,-0.4,-0.3,-0.2,-0.1,0,0.1,0.2,0.3,0.4,0.5,0.6,0.7,0.8,0.9,1,1.1],"tickSize":16,"offset":-16,"labels":false,"title":null}},"y":{"field":"xs","type":"quantitative","scale":{"domain":[0,1.7],"nice":false},"axis":{"orient":"left","values":[0.2,0.4,0.6,0.8,1,1.2,1.4,1.6],"tickSize":17,"offset":-17,"labels":false,"title":null}},"color":{"field":"s","type":"nominal","scale":{"domain":["SB","BB","BR"],"range":["#ec4134","#3a4aa0","#00b159"]}}}},
      {"data":{"name":"pts"},"transform":[{"filter":"datum.E=='1066.9 MeV'"},{"aggregate":[{"op":"count","as":"n"}],"groupby":["E"]}],"mark":{"type":"text","align":"left","baseline":"alphabetic","font":"Liberation Sans","fontSize":37,"fill":"#333"},"encoding":{"x":{"datum":-1.06,"type":"quantitative","axis":{"orient":"bottom","values":[-1,-0.5,0,0.5,1],"tickSize":29,"offset":-29,"labels":false,"title":null}},"y":{"datum":1.45,"type":"quantitative","axis":{"orient":"left","values":[0,1],"tickSize":30,"offset":-30,"labels":false,"title":null}},"text":{"field":"E"}}}
    ]},
    {"width":301,"height":250,"resolve":{"axis":{"x":"independent","y":"independent"}},"layer":[
      {"data":{"name":"pts"},"transform":[{"filter":"datum.E=='1072.9 MeV'"}],"mark":{"type":"circle","size":290,"opacity":1},"encoding":{"x":{"field":"cos","type":"quantitative","scale":{"domain":[-1.2,1.2],"nice":false},"axis":{"orient":"bottom","values":[-1.1,-1,-0.9,-0.8,-0.7,-0.6,-0.5,-0.4,-0.3,-0.2,-0.1,0,0.1,0.2,0.3,0.4,0.5,0.6,0.7,0.8,0.9,1,1.1],"tickSize":16,"offset":-16,"labels":false,"title":null}},"y":{"field":"xs","type":"quantitative","scale":{"domain":[0,1.7],"nice":false},"axis":{"orient":"left","values":[0.2,0.4,0.6,0.8,1,1.2,1.4,1.6],"tickSize":17,"offset":-17,"labels":false,"title":null}},"color":{"field":"s","type":"nominal","scale":{"domain":["SB","BB","BR"],"range":["#ec4134","#3a4aa0","#00b159"]}}}},
      {"data":{"name":"pts"},"transform":[{"filter":"datum.E=='1072.9 MeV'"},{"aggregate":[{"op":"count","as":"n"}],"groupby":["E"]}],"mark":{"type":"text","align":"left","baseline":"alphabetic","font":"Liberation Sans","fontSize":37,"fill":"#333"},"encoding":{"x":{"datum":-1.06,"type":"quantitative","axis":{"orient":"bottom","values":[-1,-0.5,0,0.5,1],"tickSize":29,"offset":-29,"labels":false,"title":null}},"y":{"datum":1.45,"type":"quantitative","axis":{"orient":"left","values":[0,1],"tickSize":30,"offset":-30,"labels":false,"title":null}},"text":{"field":"E"}}}
    ]},
    {"width":301,"height":250,"resolve":{"axis":{"x":"independent","y":"independent"}},"layer":[
      {"data":{"name":"pts"},"transform":[{"filter":"datum.E=='1083.4 MeV'"}],"mark":{"type":"circle","size":290,"opacity":1},"encoding":{"x":{"field":"cos","type":"quantitative","scale":{"domain":[-1.2,1.2],"nice":false},"axis":{"orient":"bottom","values":[-1.1,-1,-0.9,-0.8,-0.7,-0.6,-0.5,-0.4,-0.3,-0.2,-0.1,0,0.1,0.2,0.3,0.4,0.5,0.6,0.7,0.8,0.9,1,1.1],"tickSize":16,"offset":-16,"labels":false,"title":null}},"y":{"field":"xs","type":"quantitative","scale":{"domain":[0,1.7],"nice":false},"axis":{"orient":"left","values":[0.2,0.4,0.6,0.8,1,1.2,1.4,1.6],"tickSize":17,"offset":-17,"labels":false,"title":null}},"color":{"field":"s","type":"nominal","scale":{"domain":["SB","BB","BR"],"range":["#ec4134","#3a4aa0","#00b159"]}}}},
      {"data":{"name":"pts"},"transform":[{"filter":"datum.E=='1083.4 MeV'"},{"aggregate":[{"op":"count","as":"n"}],"groupby":["E"]}],"mark":{"type":"text","align":"left","baseline":"alphabetic","font":"Liberation Sans","fontSize":37,"fill":"#333"},"encoding":{"x":{"datum":-1.06,"type":"quantitative","axis":{"orient":"bottom","values":[-1,-0.5,0,0.5,1],"tickSize":29,"offset":-29,"labels":false,"title":null}},"y":{"datum":1.45,"type":"quantitative","axis":{"orient":"left","values":[0,1],"tickSize":30,"offset":-30,"labels":false,"title":null}},"text":{"field":"E"}}}
    ]},
    {"width":301,"height":250,"resolve":{"axis":{"x":"independent","y":"independent"}},"layer":[
      {"data":{"name":"pts"},"transform":[{"filter":"datum.E=='1090.9 MeV'"}],"mark":{"type":"circle","size":290,"opacity":1},"encoding":{"x":{"field":"cos","type":"quantitative","scale":{"domain":[-1.2,1.2],"nice":false},"axis":{"orient":"bottom","values":[-1.1,-1,-0.9,-0.8,-0.7,-0.6,-0.5,-0.4,-0.3,-0.2,-0.1,0,0.1,0.2,0.3,0.4,0.5,0.6,0.7,0.8,0.9,1,1.1],"tickSize":16,"offset":-16,"labels":false,"title":null}},"y":{"field":"xs","type":"quantitative","scale":{"domain":[0,1.7],"nice":false},"axis":{"orient":"left","values":[0.2,0.4,0.6,0.8,1,1.2,1.4,1.6],"tickSize":17,"offset":-17,"labels":false,"title":null}},"color":{"field":"s","type":"nominal","scale":{"domain":["SB","BB","BR"],"range":["#ec4134","#3a4aa0","#00b159"]}}}},
      {"data":{"name":"pts"},"transform":[{"filter":"datum.E=='1090.9 MeV'"},{"aggregate":[{"op":"count","as":"n"}],"groupby":["E"]}],"mark":{"type":"text","align":"left","baseline":"alphabetic","font":"Liberation Sans","fontSize":37,"fill":"#333"},"encoding":{"x":{"datum":-1.06,"type":"quantitative","axis":{"orient":"bottom","values":[-1,-0.5,0,0.5,1],"tickSize":29,"offset":-29,"labels":false,"title":null}},"y":{"datum":1.45,"type":"quantitative","axis":{"orient":"left","values":[0,1],"tickSize":30,"offset":-30,"labels":false,"title":null}},"text":{"field":"E"}}}
    ]},
    {"width":301,"height":250,"resolve":{"axis":{"x":"independent","y":"independent"}},"layer":[
      {"data":{"name":"pts"},"transform":[{"filter":"datum.E=='1100.6 MeV'"}],"mark":{"type":"circle","size":290,"opacity":1},"encoding":{"x":{"field":"cos","type":"quantitative","scale":{"domain":[-1.2,1.2],"nice":false},"axis":{"orient":"bottom","values":[-1.1,-1,-0.9,-0.8,-0.7,-0.6,-0.5,-0.4,-0.3,-0.2,-0.1,0,0.1,0.2,0.3,0.4,0.5,0.6,0.7,0.8,0.9,1,1.1],"tickSize":16,"offset":-16,"labels":false,"title":null}},"y":{"field":"xs","type":"quantitative","scale":{"domain":[0,1.7],"nice":false},"axis":{"orient":"left","values":[0.2,0.4,0.6,0.8,1,1.2,1.4,1.6],"tickSize":17,"offset":-17,"labels":false,"title":null}},"color":{"field":"s","type":"nominal","scale":{"domain":["SB","BB","BR"],"range":["#ec4134","#3a4aa0","#00b159"]}}}},
      {"data":{"name":"pts"},"transform":[{"filter":"datum.E=='1100.6 MeV'"},{"aggregate":[{"op":"count","as":"n"}],"groupby":["E"]}],"mark":{"type":"text","align":"left","baseline":"alphabetic","font":"Liberation Sans","fontSize":37,"fill":"#333"},"encoding":{"x":{"datum":-1.06,"type":"quantitative","axis":{"orient":"bottom","values":[-1,-0.5,0,0.5,1],"tickSize":29,"offset":-29,"labels":true,"labelPadding":16,"labelExpr":"''+datum.value","title":null}},"y":{"datum":1.45,"type":"quantitative","axis":{"orient":"left","values":[0,1],"tickSize":30,"offset":-30,"labels":true,"labelPadding":20,"labelExpr":"''+datum.value","title":null}},"text":{"field":"E"}}}
    ]},
    {"width":301,"height":250,"resolve":{"axis":{"x":"independent","y":"independent"}},"layer":[
      {"data":{"name":"pts"},"transform":[{"filter":"datum.E=='1111.1 MeV'"}],"mark":{"type":"circle","size":290,"opacity":1},"encoding":{"x":{"field":"cos","type":"quantitative","scale":{"domain":[-1.2,1.2],"nice":false},"axis":{"orient":"bottom","values":[-1.1,-1,-0.9,-0.8,-0.7,-0.6,-0.5,-0.4,-0.3,-0.2,-0.1,0,0.1,0.2,0.3,0.4,0.5,0.6,0.7,0.8,0.9,1,1.1],"tickSize":16,"offset":-16,"labels":false,"title":null}},"y":{"field":"xs","type":"quantitative","scale":{"domain":[0,1.7],"nice":false},"axis":{"orient":"left","values":[0.2,0.4,0.6,0.8,1,1.2,1.4,1.6],"tickSize":17,"offset":-17,"labels":false,"title":null}},"color":{"field":"s","type":"nominal","scale":{"domain":["SB","BB","BR"],"range":["#ec4134","#3a4aa0","#00b159"]}}}},
      {"data":{"name":"pts"},"transform":[{"filter":"datum.E=='1111.1 MeV'"},{"aggregate":[{"op":"count","as":"n"}],"groupby":["E"]}],"mark":{"type":"text","align":"left","baseline":"alphabetic","font":"Liberation Sans","fontSize":37,"fill":"#333"},"encoding":{"x":{"datum":-1.06,"type":"quantitative","axis":{"orient":"bottom","values":[-1,-0.5,0,0.5,1],"tickSize":29,"offset":-29,"labels":true,"labelPadding":16,"labelExpr":"''+datum.value","title":null}},"y":{"datum":1.45,"type":"quantitative","axis":{"orient":"left","values":[0,1],"tickSize":30,"offset":-30,"labels":false,"title":null}},"text":{"field":"E"}}}
    ]},
    {"width":301,"height":250,"resolve":{"axis":{"x":"independent","y":"independent"}},"layer":[
      {"data":{"name":"pts"},"transform":[{"filter":"datum.E=='1122.5 MeV'"}],"mark":{"type":"circle","size":290,"opacity":1},"encoding":{"x":{"field":"cos","type":"quantitative","scale":{"domain":[-1.2,1.2],"nice":false},"axis":{"orient":"bottom","values":[-1.1,-1,-0.9,-0.8,-0.7,-0.6,-0.5,-0.4,-0.3,-0.2,-0.1,0,0.1,0.2,0.3,0.4,0.5,0.6,0.7,0.8,0.9,1,1.1],"tickSize":16,"offset":-16,"labels":false,"title":null}},"y":{"field":"xs","type":"quantitative","scale":{"domain":[0,1.7],"nice":false},"axis":{"orient":"left","values":[0.2,0.4,0.6,0.8,1,1.2,1.4,1.6],"tickSize":17,"offset":-17,"labels":false,"title":null}},"color":{"field":"s","type":"nominal","scale":{"domain":["SB","BB","BR"],"range":["#ec4134","#3a4aa0","#00b159"]}}}},
      {"data":{"name":"pts"},"transform":[{"filter":"datum.E=='1122.5 MeV'"},{"aggregate":[{"op":"count","as":"n"}],"groupby":["E"]}],"mark":{"type":"text","align":"left","baseline":"alphabetic","font":"Liberation Sans","fontSize":37,"fill":"#333"},"encoding":{"x":{"datum":-1.06,"type":"quantitative","axis":{"orient":"bottom","values":[-1,-0.5,0,0.5,1],"tickSize":29,"offset":-29,"labels":true,"labelPadding":16,"labelExpr":"''+datum.value","title":null}},"y":{"datum":1.45,"type":"quantitative","axis":{"orient":"left","values":[0,1],"tickSize":30,"offset":-30,"labels":false,"title":null}},"text":{"field":"E"}}},
      {"data":{"values":[{}]},"mark":{"type":"text","align":"left","baseline":"alphabetic","font":"Liberation Serif","fontSize":56,"fill":"#111"},"encoding":{"x":{"datum":-0.554,"type":"quantitative","axis":null},"y":{"datum":-0.721,"type":"quantitative","axis":null},"text":{"value":"cos"}}},
      {"data":{"values":[{}]},"mark":{"type":"text","align":"left","baseline":"alphabetic","font":"Liberation Serif","fontStyle":"italic","fontSize":58,"fill":"#111"},"encoding":{"x":{"datum":0.131,"type":"quantitative","axis":null},"y":{"datum":-0.721,"type":"quantitative","axis":null},"text":{"value":"θ"}}},
      {"data":{"values":[{}]},"mark":{"type":"text","align":"left","baseline":"alphabetic","font":"Liberation Serif","fontSize":32,"fill":"#111"},"encoding":{"x":{"datum":0.5,"type":"quantitative","axis":null},"y":{"datum":-0.537,"type":"quantitative","axis":null},"text":{"value":"*"}}},
      {"data":{"values":[{}]},"mark":{"type":"text","align":"left","baseline":"alphabetic","font":"Liberation Serif","fontStyle":"italic","fontSize":34,"fill":"#111"},"encoding":{"x":{"datum":0.37,"type":"quantitative","axis":null},"y":{"datum":-0.809,"type":"quantitative","axis":null},"text":{"value":"η"}}}
    ]},
    {"width":301,"height":250,"resolve":{"axis":{"x":"independent","y":"independent"}},"layer":[
      {"data":{"name":"pts"},"transform":[{"filter":"datum.E=='1134 MeV'"}],"mark":{"type":"circle","size":290,"opacity":1},"encoding":{"x":{"field":"cos","type":"quantitative","scale":{"domain":[-1.2,1.2],"nice":false},"axis":{"orient":"bottom","values":[-1.1,-1,-0.9,-0.8,-0.7,-0.6,-0.5,-0.4,-0.3,-0.2,-0.1,0,0.1,0.2,0.3,0.4,0.5,0.6,0.7,0.8,0.9,1,1.1],"tickSize":16,"offset":-16,"labels":false,"title":null}},"y":{"field":"xs","type":"quantitative","scale":{"domain":[0,1.7],"nice":false},"axis":{"orient":"left","values":[0.2,0.4,0.6,0.8,1,1.2,1.4,1.6],"tickSize":17,"offset":-17,"labels":false,"title":null}},"color":{"field":"s","type":"nominal","scale":{"domain":["SB","BB","BR"],"range":["#ec4134","#3a4aa0","#00b159"]}}}},
      {"data":{"name":"pts"},"transform":[{"filter":"datum.E=='1134 MeV'"},{"aggregate":[{"op":"count","as":"n"}],"groupby":["E"]}],"mark":{"type":"text","align":"left","baseline":"alphabetic","font":"Liberation Sans","fontSize":37,"fill":"#333"},"encoding":{"x":{"datum":-1.06,"type":"quantitative","axis":{"orient":"bottom","values":[-1,-0.5,0,0.5,1],"tickSize":29,"offset":-29,"labels":true,"labelPadding":16,"labelExpr":"''+datum.value","title":null}},"y":{"datum":1.45,"type":"quantitative","axis":{"orient":"left","values":[0,1],"tickSize":30,"offset":-30,"labels":false,"title":null}},"text":{"field":"E"}}}
    ]},
    {"width":301,"height":250,"resolve":{"axis":{"x":"independent","y":"independent"}},"layer":[
      {"data":{"name":"pts"},"transform":[{"filter":"datum.E=='1143.4 MeV'"}],"mark":{"type":"circle","size":290,"opacity":1},"encoding":{"x":{"field":"cos","type":"quantitative","scale":{"domain":[-1.2,1.2],"nice":false},"axis":{"orient":"bottom","values":[-1.1,-1,-0.9,-0.8,-0.7,-0.6,-0.5,-0.4,-0.3,-0.2,-0.1,0,0.1,0.2,0.3,0.4,0.5,0.6,0.7,0.8,0.9,1,1.1],"tickSize":16,"offset":-16,"labels":false,"title":null}},"y":{"field":"xs","type":"quantitative","scale":{"domain":[0,1.7],"nice":false},"axis":{"orient":"left","values":[0.2,0.4,0.6,0.8,1,1.2,1.4,1.6],"tickSize":17,"offset":-17,"labels":false,"title":null}},"color":{"field":"s","type":"nominal","scale":{"domain":["SB","BB","BR"],"range":["#ec4134","#3a4aa0","#00b159"]}}}},
      {"data":{"name":"pts"},"transform":[{"filter":"datum.E=='1143.4 MeV'"},{"aggregate":[{"op":"count","as":"n"}],"groupby":["E"]}],"mark":{"type":"text","align":"left","baseline":"alphabetic","font":"Liberation Sans","fontSize":37,"fill":"#333"},"encoding":{"x":{"datum":-1.06,"type":"quantitative","axis":{"orient":"bottom","values":[-1,-0.5,0,0.5,1],"tickSize":29,"offset":-29,"labels":true,"labelPadding":16,"labelExpr":"''+datum.value","title":null}},"y":{"datum":1.45,"type":"quantitative","axis":{"orient":"left","values":[0,1],"tickSize":30,"offset":-30,"labels":false,"title":null}},"text":{"field":"E"}}},
      {"data":{"values":[{}]},"mark":{"type":"text","align":"left","baseline":"alphabetic","font":"Liberation Serif","fontSize":55,"fill":"#111"},"encoding":{"x":{"datum":-0.626,"type":"quantitative","axis":null},"y":{"datum":-0.666,"type":"quantitative","axis":null},"text":{"value":"deuterium"}}},
      {"data":{"values":[{}]},"mark":{"type":"text","align":"center","baseline":"alphabetic","font":"Liberation Serif","fontSize":88,"fill":"#75743a","angle":333.4},"encoding":{"x":{"datum":-4.556,"type":"quantitative","axis":null},"y":{"datum":3.372,"type":"quantitative","axis":null},"text":{"value":"very preliminary"}}}
    ]}
  ],
  "config": {
    "view": {"stroke": "#333", "strokeWidth": 1.6},
    "axis": {
      "domain": false,
      "grid": false,
      "ticks": true,
      "tickColor": "#333",
      "tickWidth": 1.6,
      "labelFont": "Liberation Sans",
      "labelFontSize": 37,
      "labelColor": "#333",
      "labelFlush": false,
      "labelOverlap": false,
      "labelBound": false
    }
  }
}
